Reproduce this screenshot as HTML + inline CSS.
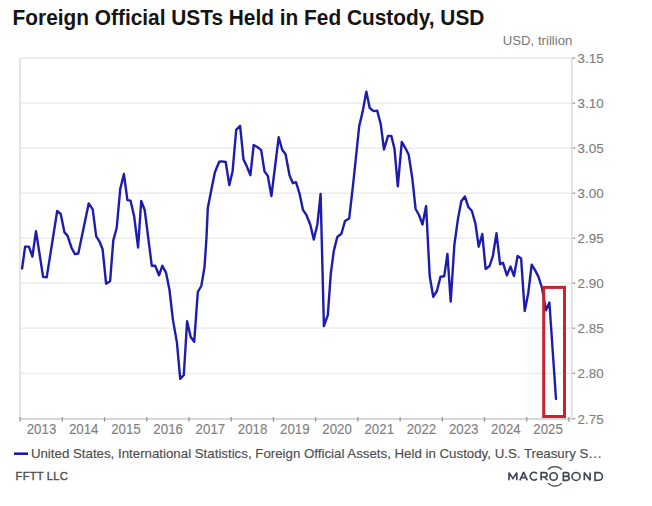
<!DOCTYPE html>
<html><head><meta charset="utf-8"><style>
html,body{margin:0;padding:0;background:#fff;width:652px;height:506px;overflow:hidden}
svg{position:absolute;left:0;top:0;display:block}
text{font-family:"Liberation Sans",sans-serif}
.g{stroke:#e8e8e8;stroke-width:1.3}
.v{stroke:#dadada;stroke-width:1.4}
.t{stroke:#9a9a9a;stroke-width:1.2}
.ax{stroke:#c8c8c8;stroke-width:1.5}
.tk{stroke:#9a9a9a;stroke-width:1.3}
.yl{font-size:13.4px;fill:#7d7d7d;stroke:#7d7d7d;stroke-width:0.12}
.xl{font-size:13.3px;fill:#7f7f7f;stroke:#7f7f7f;stroke-width:0.12}
</style></head><body>
<svg width="652" height="506" viewBox="0 0 652 506">
<text transform="translate(12.60,24.60) scale(1,1.04)" style="font-size:20.85px;font-weight:bold;fill:#141414">Foreign Official USTs Held in Fed Custody, USD</text>
<text transform="translate(502.70,45.30) scale(1,1.02)" style="font-size:13.2px;fill:#777">USD, trillion</text>
<line x1="20" y1="58.0" x2="571.8" y2="58.0" class="g"/><line x1="571.8" y1="58.0" x2="575.3" y2="58.0" class="t"/><line x1="20" y1="103.1" x2="571.8" y2="103.1" class="g"/><line x1="571.8" y1="103.1" x2="575.3" y2="103.1" class="t"/><line x1="20" y1="148.1" x2="571.8" y2="148.1" class="g"/><line x1="571.8" y1="148.1" x2="575.3" y2="148.1" class="t"/><line x1="20" y1="193.1" x2="571.8" y2="193.1" class="g"/><line x1="571.8" y1="193.1" x2="575.3" y2="193.1" class="t"/><line x1="20" y1="238.2" x2="571.8" y2="238.2" class="g"/><line x1="571.8" y1="238.2" x2="575.3" y2="238.2" class="t"/><line x1="20" y1="283.2" x2="571.8" y2="283.2" class="g"/><line x1="571.8" y1="283.2" x2="575.3" y2="283.2" class="t"/><line x1="20" y1="328.2" x2="571.8" y2="328.2" class="g"/><line x1="571.8" y1="328.2" x2="575.3" y2="328.2" class="t"/><line x1="20" y1="373.3" x2="571.8" y2="373.3" class="g"/><line x1="571.8" y1="373.3" x2="575.3" y2="373.3" class="t"/><line x1="571.8" y1="418.7" x2="575.3" y2="418.7" class="t"/>
<line x1="20" y1="418.9" x2="571.8" y2="418.9" class="ax"/><line x1="20" y1="58" x2="20" y2="418.9" class="v"/><line x1="571.8" y1="58" x2="571.8" y2="418.9" class="v"/>
<line x1="20.1" y1="417.1" x2="20.1" y2="421.7" class="tk"/><line x1="62.3" y1="417.1" x2="62.3" y2="421.7" class="tk"/><line x1="104.5" y1="417.1" x2="104.5" y2="421.7" class="tk"/><line x1="146.8" y1="417.1" x2="146.8" y2="421.7" class="tk"/><line x1="189.0" y1="417.1" x2="189.0" y2="421.7" class="tk"/><line x1="231.2" y1="417.1" x2="231.2" y2="421.7" class="tk"/><line x1="273.4" y1="417.1" x2="273.4" y2="421.7" class="tk"/><line x1="315.6" y1="417.1" x2="315.6" y2="421.7" class="tk"/><line x1="357.8" y1="417.1" x2="357.8" y2="421.7" class="tk"/><line x1="400.1" y1="417.1" x2="400.1" y2="421.7" class="tk"/><line x1="442.3" y1="417.1" x2="442.3" y2="421.7" class="tk"/><line x1="484.5" y1="417.1" x2="484.5" y2="421.7" class="tk"/><line x1="526.7" y1="417.1" x2="526.7" y2="421.7" class="tk"/><line x1="568.9" y1="417.1" x2="568.9" y2="421.7" class="tk"/>
<text transform="translate(577.60,63.05) scale(1,1.0)" class="yl">3.15</text><text transform="translate(577.60,108.08) scale(1,1.0)" class="yl">3.10</text><text transform="translate(577.60,153.11) scale(1,1.0)" class="yl">3.05</text><text transform="translate(577.60,198.14) scale(1,1.0)" class="yl">3.00</text><text transform="translate(577.60,243.17) scale(1,1.0)" class="yl">2.95</text><text transform="translate(577.60,288.20) scale(1,1.0)" class="yl">2.90</text><text transform="translate(577.60,333.23) scale(1,1.0)" class="yl">2.85</text><text transform="translate(577.60,378.26) scale(1,1.0)" class="yl">2.80</text><text transform="translate(577.60,423.70) scale(1,1.0)" class="yl">2.75</text>
<text transform="translate(41.51,433.80) scale(1,1.09)" class="xl" text-anchor="middle">2013</text><text transform="translate(83.73,433.80) scale(1,1.09)" class="xl" text-anchor="middle">2014</text><text transform="translate(125.94,433.80) scale(1,1.09)" class="xl" text-anchor="middle">2015</text><text transform="translate(168.16,433.80) scale(1,1.09)" class="xl" text-anchor="middle">2016</text><text transform="translate(210.38,433.80) scale(1,1.09)" class="xl" text-anchor="middle">2017</text><text transform="translate(252.59,433.80) scale(1,1.09)" class="xl" text-anchor="middle">2018</text><text transform="translate(294.81,433.80) scale(1,1.09)" class="xl" text-anchor="middle">2019</text><text transform="translate(337.03,433.80) scale(1,1.09)" class="xl" text-anchor="middle">2020</text><text transform="translate(379.24,433.80) scale(1,1.09)" class="xl" text-anchor="middle">2021</text><text transform="translate(421.46,433.80) scale(1,1.09)" class="xl" text-anchor="middle">2022</text><text transform="translate(463.68,433.80) scale(1,1.09)" class="xl" text-anchor="middle">2023</text><text transform="translate(505.89,433.80) scale(1,1.09)" class="xl" text-anchor="middle">2024</text><text transform="translate(548.11,433.80) scale(1,1.09)" class="xl" text-anchor="middle">2025</text>
<path d="M22.1,268.5 L25.1,246.6 L28.9,246.6 L32.4,256.6 L36.0,231.1 L43.1,276.9 L46.7,277.4 L57.2,211.0 L60.7,213.9 L64.5,232.4 L67.5,235.6 L71.6,248.0 L74.9,254.1 L78.3,253.5 L88.7,203.4 L92.7,209.3 L96.2,236.4 L99.6,241.7 L102.6,249.2 L106.1,283.7 L110.1,281.2 L113.3,240.4 L116.7,227.8 L120.3,188.7 L123.9,174.0 L127.4,200.1 L130.5,200.6 L134.1,216.0 L138.1,247.5 L141.2,201.0 L144.7,210.0 L151.8,265.8 L155.2,265.8 L159.0,275.3 L162.3,265.8 L166.1,272.9 L169.5,290.0 L172.9,319.6 L176.9,342.4 L180.2,378.9 L183.8,375.0 L187.1,321.2 L190.7,337.0 L194.2,341.8 L197.8,292.0 L201.3,286.0 L204.5,267.2 L206.5,237.5 L207.8,207.9 L211.3,190.0 L214.9,172.2 L219.2,161.8 L222.4,161.4 L225.7,162.0 L229.3,185.1 L232.6,171.2 L236.2,129.8 L240.1,125.9 L243.5,159.4 L246.8,166.3 L250.4,175.2 L253.7,145.0 L257.3,147.0 L261.2,150.1 L264.5,171.4 L267.8,175.9 L271.4,196.0 L278.7,137.2 L282.2,149.7 L285.6,154.2 L289.5,175.3 L292.9,183.2 L296.0,182.2 L299.4,193.1 L303.0,209.9 L306.3,214.8 L310.3,224.8 L313.8,239.6 L317.4,224.2 L320.6,194.0 L323.9,326.1 L327.8,315.2 L330.8,273.7 L333.8,250.9 L337.3,237.0 L341.4,233.8 L345.0,221.0 L349.2,218.4 L353.3,182.6 L359.2,126.1 L362.6,111.9 L366.3,91.6 L369.7,107.9 L372.1,110.0 L374.0,111.1 L377.2,110.6 L380.8,124.5 L384.0,149.5 L388.0,135.9 L391.3,135.9 L394.5,148.8 L397.8,186.3 L401.8,141.9 L405.2,147.8 L408.7,154.7 L412.3,178.4 L415.6,209.0 L419.0,215.0 L422.5,224.5 L426.1,206.1 L429.7,276.0 L433.2,296.8 L436.9,291.0 L440.5,276.7 L444.2,276.3 L447.4,253.9 L450.7,301.6 L454.4,244.5 L458.0,218.6 L461.3,201.2 L464.9,196.5 L468.4,207.1 L471.8,210.7 L475.4,223.5 L478.7,246.7 L482.3,234.0 L485.6,269.0 L489.6,266.0 L492.9,255.8 L496.5,233.3 L500.1,264.3 L502.9,262.7 L506.9,275.3 L510.5,266.6 L514.0,276.1 L517.6,256.0 L521.1,258.4 L524.7,311.0 L528.2,293.5 L531.7,264.7 L535.3,270.6 L538.5,276.9 L542.0,288.0 L545.9,310.2 L549.4,302.5 L556.0,399.0" fill="none" stroke="#1e1cae" stroke-width="2.4" stroke-linejoin="round" stroke-linecap="round"/>
<rect x="543.7" y="287.4" width="20.8" height="129.1" fill="none" stroke="#c42630" stroke-width="3"/>
<line x1="14" y1="453.7" x2="28" y2="453.7" stroke="#1e1cae" stroke-width="2.6"/>
<text transform="translate(30.90,458.10) scale(1,0.96)" style="font-size:13.3px;fill:#4d4d4d;stroke:#4d4d4d;stroke-width:0.15">United States, International Statistics, Foreign Official Assets, Held in Custody, U.S. Treasury S<tspan dx="0.5" letter-spacing="0.75px">...</tspan></text>
<text transform="translate(15.60,479.80) scale(1,1.02)" style="font-size:11.2px;fill:#4a4a4a;stroke:#4a4a4a;stroke-width:0.35;letter-spacing:0.2px">FFTT LLC</text>
<g fill="none" stroke="#414756" stroke-width="1.65" stroke-linejoin="miter" stroke-miterlimit="2" stroke-linecap="butt">
<path d="M509,480.3 V472.6 L512.9,478.6 L516.8,472.6 V480.3"/>
<path d="M519.9,480.3 L523.6,472.2 L527.3,480.3 M521.3,477.6 H525.9"/>
<path d="M537,473.6 A3.9,3.9 0 1 0 537,478.8"/>
<path d="M541.1,480.3 V472.6 H544.8 A2.2,2.2 0 0 1 544.8,477 H541.1 M544.4,477 L547.5,480.3"/>
<circle cx="553.6" cy="476.45" r="3.75"/>
<path d="M563.3,472.6 H566.9 A1.9,1.9 0 0 1 566.9,476.4 H563.3 M563.3,476.4 H567.2 A1.95,1.95 0 0 1 567.2,480.3 H563.3 V472.6"/>
<circle cx="576.05" cy="476.45" r="4"/>
<path d="M584.3,480.3 V472.6 L590.1,480.3 V472.6"/>
<path d="M595,472.6 H598.6 A3.85,3.85 0 0 1 598.6,480.3 H595 Z"/>
</g>
<g fill="none" stroke="#414756" stroke-width="1.3">
<path d="M548.0,469.6 A9.7,9.7 0 0 1 561.9,469.6"/>
<path d="M561.9,483.1 A9.7,9.7 0 0 1 548.0,483.1"/>
</g>
</svg>
</body></html>
